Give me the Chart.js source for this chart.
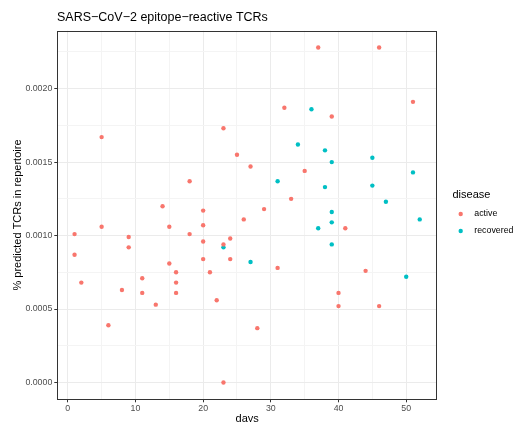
<!DOCTYPE html>
<html>
<head>
<meta charset="utf-8">
<script src="https://cdn.jsdelivr.net/npm/chart.js@4"></script>
<style>
  html, body { margin: 0; padding: 0; background: #fff; }
  canvas { display: block; }
</style>
</head>
<body>
<canvas id="tcrChart" width="513" height="422"></canvas>
<script>
const activeDays = [1, 1, 2, 5, 5, 6, 8, 9, 9, 11, 11, 13, 14, 15, 15, 16, 16, 16, 18, 18,
                    20, 20, 20, 20, 21, 22, 23, 23, 23, 24, 24, 25, 26, 27, 28, 29, 31, 32, 33, 35,
                    37, 39, 40, 40, 41, 44, 46, 46, 51];
const activePct = [0.00101, 0.00087, 0.00068, 0.00167, 0.00106, 0.00039, 0.00063, 0.00099, 0.00092, 0.00071,
                   0.00061, 0.00053, 0.00120, 0.00106, 0.00081, 0.00075, 0.00068, 0.00061, 0.00137, 0.00101,
                   0.00117, 0.00107, 0.00096, 0.00084, 0.00075, 0.00056, 0.00173, 0.00094, 0.0, 0.00098,
                   0.00084, 0.00155, 0.00111, 0.00147, 0.00037, 0.00118, 0.00078, 0.00187, 0.00125, 0.00144,
                   0.00228, 0.00181, 0.00061, 0.00052, 0.00105, 0.00076, 0.00228, 0.00052, 0.00191];

const recoveredDays = [23, 27, 31, 34, 36, 37, 38, 38, 39, 39, 39, 39, 45, 45, 47, 50, 51, 52];
const recoveredPct = [0.00092, 0.00082, 0.00137, 0.00162, 0.00186, 0.00105, 0.00158, 0.00133, 0.00150, 0.00116,
                      0.00109, 0.00094, 0.00153, 0.00134, 0.00123, 0.00072, 0.00143, 0.00111];

const xTicks = [0, 5, 10, 15, 20, 25, 30, 35, 40, 45, 50];
const yTicks = [0, 0.00025, 0.0005, 0.00075, 0.001, 0.00125, 0.0015, 0.00175, 0.002, 0.00225];

const diseaseLabels = ['active', 'recovered'];
const diseaseColors = ['#F8766D', '#00BFC4'];

function toPoints(xs, ys) {
  return xs.map((x, i) => ({ x: x, y: ys[i] }));
}

// ggplot-style 5% expansion on each side
function expanded(values) {
  const lo = Math.min(...values), hi = Math.max(...values);
  const pad = (hi - lo) * 0.05;
  return { min: lo - pad, max: hi + pad };
}

const xRange = expanded(activeDays.concat(recoveredDays));
const yRange = expanded(activePct.concat(recoveredPct));

const isMajorX = v => Math.abs(v % 10) < 1e-9;
const isMajorY = v => Math.abs(Math.round(v / 0.0005) * 0.0005 - v) < 1e-9;

const FONT = "'Liberation Sans', Arial, Helvetica, sans-serif";

const decorations = {
  id: 'decorations',
  afterDraw(chart) {
    const { ctx, chartArea: a } = chart;
    ctx.save();
    // panel border
    ctx.strokeStyle = '#333333';
    ctx.lineWidth = 1;
    ctx.strokeRect(Math.round(a.left) + 0.5, Math.round(a.top) + 0.5,
                   Math.round(a.right - a.left) - 1, Math.round(a.bottom - a.top) - 1);

    // plot title
    ctx.fillStyle = '#000';
    ctx.textBaseline = 'middle';
    ctx.textAlign = 'left';
    ctx.font = '12.5px ' + FONT;
    ctx.fillText('SARS\u2212CoV\u22122 epitope\u2212reactive TCRs', 57, 17.5);

    // axis titles
    ctx.font = '11px ' + FONT;
    ctx.textAlign = 'center';
    ctx.fillText('days', (a.left + a.right) / 2, 418.5);
    ctx.save();
    ctx.translate(17.5, (a.top + a.bottom) / 2);
    ctx.rotate(-Math.PI / 2);
    ctx.fillText('% predicted TCRs in repertoire', 0, 0);
    ctx.restore();

    // legend
    ctx.textAlign = 'left';
    ctx.fillText('disease', 452.5, 195);
    ctx.font = '8.8px ' + FONT;
    diseaseLabels.forEach((label, i) => {
      const y = 214 + i * 17;
      ctx.fillStyle = diseaseColors[i];
      ctx.beginPath();
      ctx.arc(460.7, y, 2.2, 0, Math.PI * 2);
      ctx.fill();
      ctx.fillStyle = '#000';
      ctx.fillText(label, 474.3, y);
    });
    ctx.restore();
  }
};

new Chart(document.getElementById('tcrChart'), {
  type: 'scatter',
  data: {
    datasets: [
      {
        label: diseaseLabels[0],
        data: toPoints(activeDays, activePct),
        backgroundColor: diseaseColors[0],
        borderWidth: 0,
        pointRadius: 2.2
      },
      {
        label: diseaseLabels[1],
        data: toPoints(recoveredDays, recoveredPct),
        backgroundColor: diseaseColors[1],
        borderWidth: 0,
        pointRadius: 2.2
      }
    ]
  },
  options: {
    responsive: false,
    animation: false,
    layout: { padding: { left: 0, top: 30.7, right: 76, bottom: 0 } },
    plugins: {
      legend: { display: false },
      tooltip: { enabled: false },
      title: { display: false }
    },
    scales: {
      x: {
        type: 'linear',
        min: xRange.min,
        max: xRange.max,
        afterBuildTicks: s => { s.ticks = xTicks.map(v => ({ value: v })); },
        afterFit: s => { s.height = 22.7; },
        border: { display: false },
        grid: {
          color: c => isMajorX(c.tick.value) ? '#EBEBEB' : '#F4F4F4',
          lineWidth: 1,
          tickLength: 3,
          tickColor: c => isMajorX(c.tick.value) ? '#333333' : 'rgba(0,0,0,0)'
        },
        ticks: {
          autoSkip: false,
          maxRotation: 0,
          padding: 1,
          color: '#4D4D4D',
          font: { family: FONT, size: 8.8 },
          callback: v => isMajorX(v) ? String(v) : ''
        }
      },
      y: {
        type: 'linear',
        min: yRange.min,
        max: yRange.max,
        afterBuildTicks: s => { s.ticks = yTicks.map(v => ({ value: v })); },
        afterFit: s => { s.width = 57.3; },
        border: { display: false },
        grid: {
          color: c => isMajorY(c.tick.value) ? '#EBEBEB' : '#F4F4F4',
          lineWidth: 1,
          tickLength: 3,
          tickColor: c => isMajorY(c.tick.value) ? '#333333' : 'rgba(0,0,0,0)'
        },
        ticks: {
          autoSkip: false,
          padding: 2,
          color: '#4D4D4D',
          font: { family: FONT, size: 8.8 },
          callback: v => isMajorY(v) ? v.toFixed(4) : ''
        }
      }
    }
  },
  plugins: [decorations]
});
</script>
</body>
</html>
